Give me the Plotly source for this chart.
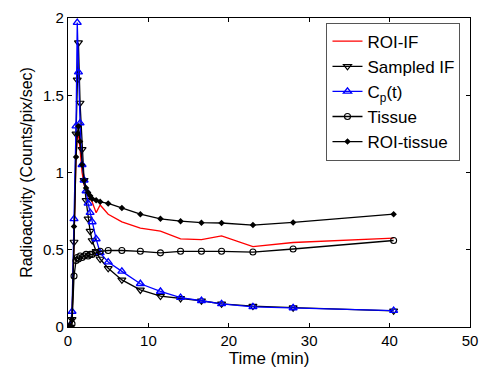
import plotly.graph_objects as go

time = [0, 0.25, 0.5, 0.75, 1.0, 1.15, 1.3, 1.5, 1.75, 2.0, 2.25, 2.5, 2.75, 3.0, 3.5,
        4.0, 5.0, 6.7, 9.0, 11.5, 14.0, 16.6, 19.1, 23.0, 28.0, 40.5]

roi_if = [0, 0, 0.03, 0.6, 1.1, 1.22, 1.25, 1.15, 1.0, 0.92, 0.88, 0.85, 0.83, 0.81, 0.74,
          0.79, 0.73, 0.68, 0.64, 0.62, 0.57, 0.565, 0.59, 0.52, 0.547, 0.575]

sampled_if = [0, 0, 0.05, 0.55, 1.25, 1.6, 1.84, 1.45, 1.15, 0.95, 0.82, 0.7, 0.62, 0.56, 0.49,
              0.44, 0.38, 0.305, 0.24, 0.2, 0.185, 0.17, 0.15, 0.135, 0.125, 0.105]

cp = [0, 0, 0.1, 0.7, 1.3, 1.97, 1.65, 1.32, 1.05, 0.95, 0.88, 0.8, 0.74, 0.68, 0.57,
      0.48, 0.42, 0.36, 0.28, 0.23, 0.19, 0.17, 0.15, 0.13, 0.123, 0.106]

tissue = [0, 0, 0.02, 0.33, 0.43, 0.45, 0.44, 0.46, 0.45, 0.46, 0.47, 0.46, 0.47, 0.47, 0.48,
          0.49, 0.495, 0.495, 0.49, 0.48, 0.49, 0.49, 0.49, 0.485, 0.505, 0.56]

roi_tissue = [0, 0, 0.05, 0.65, 1.1, 1.25, 1.3, 1.2, 1.05, 0.95, 0.9, 0.87, 0.85, 0.83, 0.82,
              0.81, 0.8, 0.77, 0.73, 0.70, 0.685, 0.675, 0.673, 0.66, 0.677, 0.73]

x_ticks = [0, 10, 20, 30, 40, 50]
y_ticks = [0, 0.5, 1, 1.5, 2]
y_tick_labels = ["0", "0.5", "1", "1.5", "2"]

FONT = "Liberation Sans, Arial, sans-serif"

fig = go.Figure()
fig.add_trace(go.Scatter(x=time, y=roi_if, mode="lines", name="ROI-IF",
                         line=dict(color="#ff0000", width=1.3)))
fig.add_trace(go.Scatter(x=time, y=sampled_if, mode="lines+markers", name="Sampled IF",
                         line=dict(color="#000000", width=1.3),
                         marker=dict(symbol="triangle-down-open", size=7, color="#000000",
                                     line=dict(width=1.2))))
fig.add_trace(go.Scatter(x=time, y=cp, mode="lines+markers", name="C<sub>p</sub>(t)",
                         line=dict(color="#0000ff", width=1.3),
                         marker=dict(symbol="triangle-up-open", size=7, color="#0000ff",
                                     line=dict(width=1.4))))
fig.add_trace(go.Scatter(x=time, y=tissue, mode="lines+markers", name="Tissue",
                         line=dict(color="#000000", width=1.3),
                         marker=dict(symbol="circle-open", size=6, color="#000000",
                                     line=dict(width=1.1))))
fig.add_trace(go.Scatter(x=time, y=roi_tissue, mode="lines+markers", name="ROI-tissue",
                         line=dict(color="#000000", width=1.3),
                         marker=dict(symbol="diamond", size=5, color="#000000")))

axis_common = dict(showgrid=False, zeroline=False, showline=True, linecolor="#000000",
                   linewidth=1.3, mirror="ticks", ticks="inside", ticklen=4, automargin=False,
                   tickcolor="#000000", tickfont=dict(family=FONT, size=15, color="#000000"))

fig.update_layout(
    width=481, height=368,
    margin=dict(l=68, r=11, t=18, b=41, autoexpand=False),
    paper_bgcolor="white", plot_bgcolor="white",
    font=dict(family=FONT, size=15, color="#000000"),
    xaxis=dict(range=[0, 50], tickvals=x_ticks,
               title=dict(text="Time (min)", font=dict(family=FONT, size=17), standoff=4),
               **axis_common),
    yaxis=dict(range=[0, 2], tickvals=y_ticks, ticktext=y_tick_labels,
               title=dict(text="Radioactivity (Counts/pix/sec)", font=dict(family=FONT, size=16),
                          standoff=6),
               **axis_common),
    legend=dict(x=0.643, y=0.985, xanchor="left", yanchor="top",
                bgcolor="white", bordercolor="#555555", borderwidth=1,
                font=dict(family=FONT, size=17), tracegroupgap=0, itemwidth=30),
    showlegend=True,
)

# remove the default page margin so the figure fills the window exactly
fig.write_html("out.html",
               config={"displayModeBar": False},
               post_script="document.body.style.margin='0';document.body.style.overflow='hidden';")
